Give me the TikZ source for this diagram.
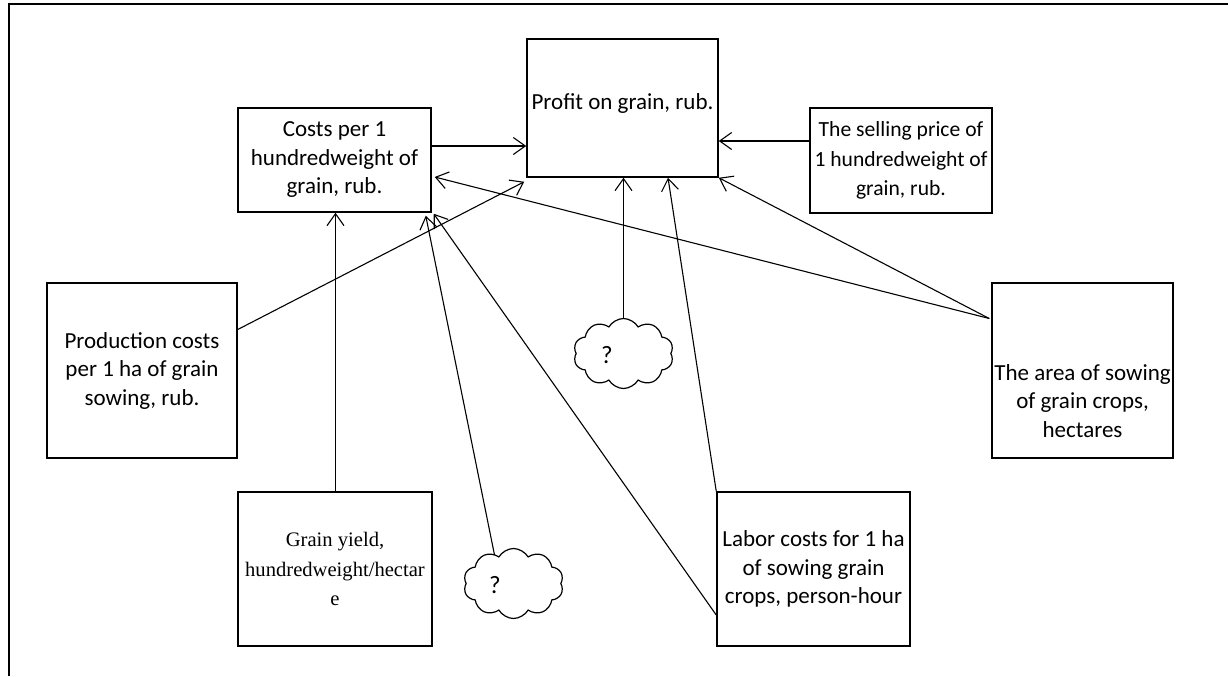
\documentclass[tikz,border=0pt]{standalone}
\usepackage{fontspec}
\setmainfont{Carlito}
\newfontfamily\tnr{Liberation Serif}
\usetikzlibrary{arrows.meta,shapes.symbols}
\tikzset{
  box/.style={draw, line width=0.75pt, inner sep=0pt, align=center,
    font=\fontsize{11.5}{14.25}\selectfont},
  txt/.style={inner sep=0pt, align=center, font=\fontsize{11.5}{14.25}\selectfont},
  arr/.style={line width=0.55pt, -{Straight Barb[length=6pt,width=8.5pt,line width=0.55pt]}},
  puff/.style={draw, cloud, cloud puffs=10, cloud puff arc=120, aspect=1.45,
    line width=0.6pt, inner sep=0pt, minimum width=50pt, minimum height=35pt},
}
\begin{document}
\begin{tikzpicture}[x=0.5pt,y=-0.5pt]
\useasboundingbox (0,0) rectangle (1228,676);
\draw[line width=1pt] (9,676) -- (9,4) -- (1228,4);

\node[box, minimum width=96.5pt, minimum height=52pt] (costs) at (334.5,160)
  {Costs per 1\\hundredweight of\\grain, rub.};
\node[box, minimum width=95.5pt, minimum height=69pt] (profit) at (622.5,108) {};
\node[txt] (profittext) at (622.5,103) {Profit on grain, rub.};
\node[box, minimum width=91pt, minimum height=52.5pt, font=\fontsize{10.8}{14.75}\selectfont] (sell) at (901,160.5)
  {The selling price of\\1 hundredweight of\\grain, rub.};
\node[box, minimum width=95pt, minimum height=87.5pt] (prod) at (142,370.5)
  {Production costs\\per 1 ha of grain\\sowing, rub.};
\node[box, minimum width=90.5pt, minimum height=87.5pt] (area) at (1082.5,370.5) {};
\node[txt] (areatext) at (1082.5,401) {The area of sowing\\of grain crops,\\hectares};
\node[box, minimum width=97pt, minimum height=77pt, font=\tnr\fontsize{10.3}{14.75}\selectfont] (grain) at (335,569)
  {Grain yield,\\hundredweight/hectar\\e};
\node[box, minimum width=96.5pt, minimum height=77pt] (labor) at (813.5,569)
  {Labor costs for 1 ha\\of sowing grain\\crops, person-hour};

\node[puff] (c1) at (623.5,353.5) {};
\node[txt, font=\fontsize{12.5}{14}\selectfont] (q1) at (607,355) {?};
\node[puff] (c2) at (513.5,583.5) {};
\node[txt, font=\fontsize{12.5}{14}\selectfont] (q2) at (495,585) {?};

% connectors
\draw[arr] ([yshift=7pt]costs.east) -- ([yshift=7pt]costs.east -| profit.west);
\draw[arr] ([yshift=9.75pt]sell.west) -- ([yshift=9.75pt]sell.west -| profit.east);
\draw[arr] ([yshift=20.5pt]prod.east) -- ([xshift=-1pt,yshift=-2pt]profit.south west);
\draw[arr] ([xshift=-1pt,yshift=26pt]area.west) -- ([xshift=1.5pt,yshift=-8.5pt]costs.east);
\draw[arr] ([xshift=-1pt,yshift=26pt]area.west) -- (profit.south east);
\draw[arr] ([xshift=0.25pt]grain.north) -- ([xshift=0.25pt]grain.north |- costs.south);
\draw[arr] ([xshift=-9.5pt,yshift=-3.5pt]c2.north) -- ([xshift=-3pt,yshift=-1.5pt]costs.south east);
\draw[arr] ([yshift=-23pt]labor.west) -- ([xshift=1pt,yshift=-0.5pt]costs.south east);
\draw[arr] (c1.north) -- (c1.north |- profit.south);
\draw[arr] (labor.north west) -- ([xshift=22.75pt]profit.south);
\end{tikzpicture}
\end{document}
